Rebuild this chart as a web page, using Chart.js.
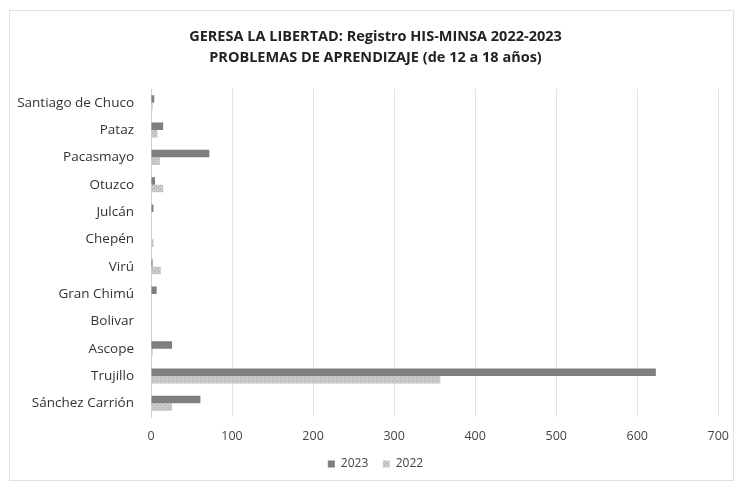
<!DOCTYPE html>
<html>
<head>
<meta charset="utf-8">
<script src="https://cdn.jsdelivr.net/npm/chart.js@4/dist/chart.umd.min.js"></script>
<style>
  html, body { margin: 0; padding: 0; background: #ffffff; overflow: hidden; }
  #frame { position: absolute; left: 9px; top: 10px; width: 725px; height: 471px; border: 1px solid #e0e0e0; box-sizing: border-box; }
  #wrap { position: absolute; left: 10px; top: 11px; width: 731px; height: 469px; }
  canvas { display: block; }
</style>
</head>
<body>
<div id="frame"></div>
<div id="wrap"><canvas id="c"></canvas></div>
<script>
const categories = ["Santiago de Chuco", "Pataz", "Pacasmayo", "Otuzco", "Julcán", "Chepén", "Virú", "Gran Chimú", "Bolivar", "Ascope", "Trujillo", "Sánchez Carrión"];
const values2023 = [4, 15, 72, 5, 3, 0, 2, 7, 0, 26, 623, 61];
const values2022 = [2, 8, 11, 15, 0, 3, 12, 0, 0, 2, 357, 26];
const xTicks = [0, 100, 200, 300, 400, 500, 600, 700];
const titleLines = ["GERESA LA LIBERTAD: Registro HIS-MINSA 2022-2023", "PROBLEMAS DE APRENDIZAJE (de 12 a 18 años)"];

const FONT = "'Open Sans', 'Liberation Sans', sans-serif";

function makePattern(base, dot) {
  const p = document.createElement('canvas');
  p.width = 4; p.height = 4;
  const g = p.getContext('2d');
  g.fillStyle = base; g.fillRect(0, 0, 4, 4);
  g.fillStyle = dot;
  g.fillRect(0, 0, 1, 1); g.fillRect(2, 2, 1, 1);
  return g.createPattern(p, 'repeat');
}
const pattern2022 = makePattern('#cacaca', '#a8a8a8');

new Chart(document.getElementById('c'), {
  type: 'bar',
  data: {
    labels: categories,
    datasets: [
      { label: '2023', data: values2023, backgroundColor: '#7f7f7f', borderWidth: 0 },
      { label: '2022', data: values2022, backgroundColor: pattern2022, borderWidth: 0 }
    ]
  },
  options: {
    indexAxis: 'y',
    responsive: true,
    maintainAspectRatio: false,
    animation: false,
    layout: { padding: { left: 0, right: 0, top: 9, bottom: 0 } },
    datasets: { bar: { categoryPercentage: 0.55, barPercentage: 1.0 } },
    scales: {
      x: {
        min: 0, max: 700,
        afterBuildTicks: (s) => { s.ticks = xTicks.map(v => ({ value: v })); },
        grid: { color: '#e3e3e3', drawTicks: false },
        border: { display: false },
        ticks: { color: '#444', font: { family: FONT, size: 12.5 }, padding: 12 }
      },
      y: {
        grid: { display: false },
        border: { color: '#d0d0d0' },
        ticks: { color: '#333', font: { family: FONT, size: 13.5 }, padding: 9 },
        afterFit: (s) => { s.width = 141; }
      }
    },
    plugins: {
      title: {
        display: true,
        text: titleLines,
        color: '#222',
        font: { family: FONT, size: 14.5, weight: 'bold', lineHeight: 1.45 },
        padding: { top: 6, bottom: 21 }
      },
      legend: {
        position: 'bottom',
        labels: {
          color: '#444', font: { family: FONT, size: 12 }, boxWidth: 7, boxHeight: 7, padding: 2,
          generateLabels: (chart) => Chart.defaults.plugins.legend.labels.generateLabels(chart).map((l, i) => {
            if (i === 0) l.text = l.text + '    ';
            return l;
          })
        }
      },
      tooltip: { enabled: false }
    }
  }
});
</script>
</body>
</html>
